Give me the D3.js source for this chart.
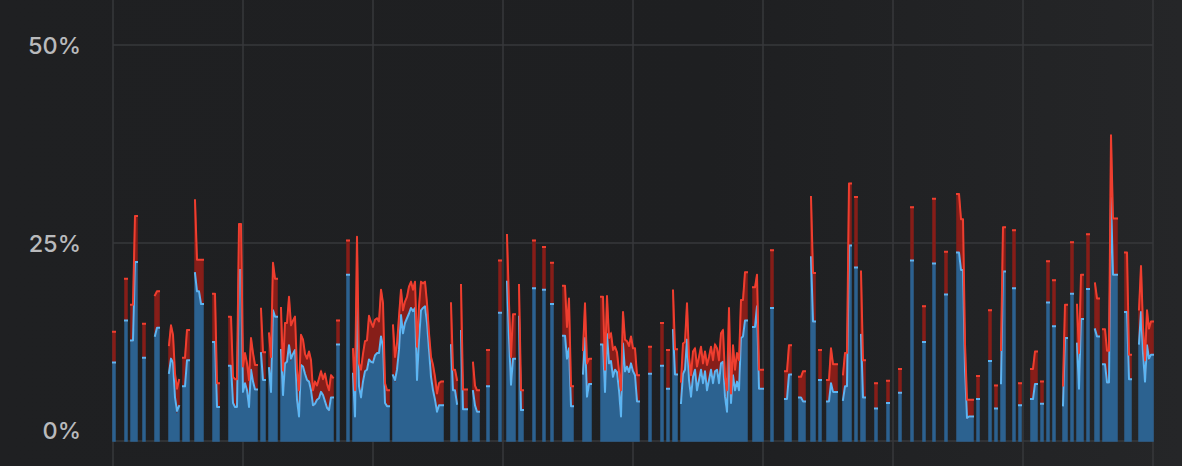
<!DOCTYPE html>
<html><head><meta charset="utf-8">
<script src="https://cdn.jsdelivr.net/npm/d3@7"></script>
<style>
html,body{margin:0;padding:0;background:#1f2022;}
svg{display:block}
</style></head>
<body><svg id="chart" width="1182" height="466"></svg>
<script>
const _ = null;
// lower series (blue), one sample per time step, null = no data
const blueVals = [
9.9,9.9,_,_,_,_,15.2,15.2,_,12.7,
12.7,22.6,22.6,_,_,10.5,10.5,_,_,_,
_,13.3,14.3,14.3,_,_,_,_,8.6,10.4,
9.9,5.5,3.8,4.4,_,6.9,6.9,10.2,10.2,_,
_,21.2,18.9,18.9,17.3,17.3,_,_,_,_,
12.5,12.5,4.3,4.3,_,_,_,_,9.5,9.5,
4.8,4.3,4.3,21.6,21.6,6.2,7.3,6.4,4.3,9.0,
7.5,6.5,6.5,_,11.1,7.7,7.7,_,9.2,6.2,
16.5,15.7,15.7,_,11.5,5.8,9.8,10.0,12.1,10.4,
11.0,11.5,5.2,3.1,9.6,9.4,8.5,7.7,7.5,6.4,
4.5,4.7,5.2,5.4,6.2,5.8,5.0,4.2,3.9,5.5,
5.5,_,12.2,12.2,_,_,_,21.0,21.0,_,
8.5,3.1,18.6,6.9,5.5,7.5,8.8,9.0,10.3,10.0,
9.9,10.8,11.1,11.1,13.2,11.9,4.8,4.4,4.4,_,
8.3,7.7,9.0,11.5,15.9,13.6,14.9,15.5,16.1,16.8,
16.4,16.8,7.7,12.8,16.5,16.8,17.0,14.9,11.5,8.1,
6.4,5.2,3.7,4.5,4.5,4.5,_,_,_,12.1,
6.4,6.4,4.7,_,13.9,4.0,4.0,4.0,_,_,
6.3,4.5,3.7,3.7,_,_,_,6.9,6.9,_,
_,_,_,16.2,16.2,_,_,20.1,13.0,7.1,
10.4,10.4,_,15.7,3.9,3.9,_,_,_,_,
19.3,19.3,_,_,_,19.1,19.1,_,_,17.3,
17.3,_,_,_,_,13.3,13.3,10.4,11.7,4.4,
4.4,_,_,_,_,8.5,13.0,5.6,7.2,7.2,
_,_,_,_,12.2,12.2,6.2,13.5,9.8,10.1,
8.1,9.0,8.7,6.4,3.1,12.3,8.8,9.4,8.7,9.8,
8.8,8.3,5.0,5.0,_,_,_,_,8.5,8.5,
_,_,_,_,9.5,9.5,_,6.6,6.6,_,
14.0,8.4,8.4,_,4.8,8.5,9.0,12.8,7.7,5.6,
8.1,9.0,6.4,7.7,9.0,7.3,8.8,6.4,7.7,9.0,
7.3,8.8,9.0,7.3,9.8,10.0,5.6,3.7,11.9,4.8,
8.3,6.4,7.5,6.4,13.0,13.2,15.2,15.2,_,_,
14.4,14.4,17.0,6.6,6.6,6.6,_,_,_,16.8,
16.8,_,_,_,_,_,5.3,5.3,8.4,8.4,
_,_,_,5.5,5.5,5.0,5.0,_,_,23.2,
15.1,15.1,_,7.7,7.7,_,_,5.0,5.0,7.3,
6.2,6.2,6.2,_,_,5.2,6.9,6.9,24.7,24.7,
_,21.9,21.9,_,13.4,5.5,5.5,_,_,_,
_,4.1,4.1,_,_,_,_,4.8,4.8,_,
_,_,_,6.1,6.1,_,_,_,_,22.8,
22.8,_,_,_,_,12.5,12.5,_,_,_,
22.4,22.4,_,_,_,_,18.5,18.5,_,_,
_,_,23.8,23.8,21.6,21.6,9.0,2.9,3.1,3.1,
3.1,_,5.3,5.3,_,_,_,_,10.1,10.1,
_,4.1,4.1,_,7.3,21.4,21.4,_,_,_,
19.3,19.3,_,4.5,4.5,_,_,_,_,5.3,
5.3,7.2,7.2,_,4.7,4.7,_,17.5,17.5,_,
14.5,14.5,_,_,_,4.5,13.0,13.0,_,18.6,
18.6,_,12.3,6.6,15.4,15.4,_,19.2,19.2,_,
_,14.1,13.2,13.2,_,9.7,9.7,7.4,7.4,30.7,
21.0,21.0,21.0,_,_,_,16.3,16.3,7.8,7.8,
_,_,_,12.3,16.3,11.1,7.5,12.1,10.4,10.9,
10.9
];
// upper series (red), stacked on top of blue
const redVals = [
3.9,3.9,_,_,_,_,5.3,5.3,_,4.5,
4.5,5.8,5.8,_,_,4.3,4.3,_,_,_,
_,5.1,4.6,4.6,_,_,_,_,3.5,4.2,
3.5,3.0,2.8,3.3,_,3.6,3.6,3.8,3.8,_,
_,9.2,4.0,4.0,5.6,5.6,_,_,_,_,
6.1,6.1,3.0,3.0,_,_,_,_,6.2,6.2,
3.3,3.5,3.5,5.8,5.8,3.2,3.8,3.4,3.4,4.0,
3.6,3.1,3.1,_,5.6,3.5,3.5,_,4.4,4.4,
6.0,4.8,4.8,_,5.3,3.1,5.1,4.9,6.1,4.2,
4.2,4.2,3.8,3.3,3.8,3.4,2.5,2.7,3.8,3.8,
1.9,2.8,1.8,2.5,2.6,2.0,3.5,3.0,2.5,2.8,
2.5,_,3.0,3.0,_,_,_,4.3,4.3,_,
3.1,3.3,7.2,2.9,3.5,3.5,3.8,3.7,5.5,5.0,
4.5,4.5,4.4,4.0,5.9,5.5,2.5,2.0,2.0,_,
6.3,2.9,3.3,4.2,3.2,2.9,2.7,2.7,3.4,3.3,
2.7,3.3,4.2,4.2,3.6,3.1,3.1,2.5,2.1,2.5,
3.2,2.9,2.3,2.8,3.0,3.0,_,_,_,5.3,
2.6,2.6,3.0,_,5.8,2.5,2.5,2.5,_,_,
3.6,2.5,2.7,2.7,_,_,_,4.6,4.6,_,
_,_,_,6.6,6.6,_,_,5.9,4.4,3.5,
5.6,5.6,_,4.0,2.5,2.5,_,_,_,_,
6.0,6.0,_,_,_,5.4,5.4,_,_,5.2,
5.2,_,_,_,_,6.3,6.3,4.0,6.3,2.5,
2.5,_,_,_,_,3.0,4.4,4.2,3.2,3.2,
_,_,_,_,6.0,6.0,2.8,4.8,3.2,3.5,
3.4,2.9,2.5,2.4,3.3,4.0,4.0,3.2,3.3,3.4,
2.9,3.4,3.3,3.3,_,_,_,_,3.4,3.4,
_,_,_,_,5.4,5.4,_,4.9,4.9,_,
5.0,3.2,3.2,_,2.7,3.8,3.5,4.6,2.9,2.7,
3.2,2.7,3.0,2.9,2.9,2.5,2.5,3.2,2.9,2.9,
2.9,3.4,2.7,2.9,3.8,4.0,2.5,2.7,4.9,1.2,
3.8,2.6,3.6,3.8,4.8,4.6,6.1,6.1,_,_,
5.0,5.0,4.0,2.4,2.4,2.4,_,_,_,7.3,
7.3,_,_,_,_,_,3.5,3.5,3.7,3.7,
_,_,_,2.6,2.6,3.8,3.8,_,_,7.6,
6.1,6.1,_,3.8,3.8,_,_,2.7,2.7,4.4,
3.5,3.5,3.5,_,_,3.2,4.2,4.2,7.8,7.8,
_,8.9,8.9,_,8.0,4.7,4.7,_,_,_,
_,3.2,3.2,_,_,_,_,2.8,2.8,_,
_,_,_,3.0,3.0,_,_,_,_,6.7,
6.7,_,_,_,_,4.5,4.5,_,_,_,
8.2,8.2,_,_,_,_,5.4,5.4,_,_,
_,_,7.4,7.4,6.4,6.4,3.3,2.3,2.1,2.1,
2.1,_,2.9,2.9,_,_,_,_,6.4,6.4,
_,2.9,2.9,_,4.2,5.6,5.6,_,_,_,
7.3,7.3,_,2.8,2.8,_,_,_,_,3.8,
3.8,4.1,4.1,_,2.8,2.8,_,5.2,5.2,_,
5.8,5.8,_,_,_,2.5,4.2,4.2,_,6.5,
6.5,_,4.9,4.5,5.6,5.6,_,6.9,6.9,_,
_,5.8,4.8,4.8,_,4.4,4.4,4.0,4.0,7.9,
7.1,7.1,7.1,_,_,_,7.5,7.5,3.1,3.1,
_,_,_,4.3,5.8,3.3,2.7,4.4,3.8,4.2,
4.2
];
const yTickValues = [0, 25, 50];
const yTickLabels = ["0%", "25%", "50%"];
const gridStep = 65; // samples between vertical grid lines

const svg = d3.select("#chart");
const W = 1182, H = 466;
const plot = {left: 113, right: 1153, top: 45, bottom: 441};

const defs = svg.append("defs");
const bg = defs.append("linearGradient").attr("id", "bg").attr("x1", "0").attr("x2", "1").attr("y1", "0").attr("y2", "0");
bg.append("stop").attr("offset", "0").attr("stop-color", "#1f2022");
bg.append("stop").attr("offset", "0.6").attr("stop-color", "#1e1f21");
bg.append("stop").attr("offset", "1").attr("stop-color", "#252628");
svg.append("rect").attr("width", W).attr("height", H).attr("fill", "url(#bg)");

const n = blueVals.length;
const x = d3.scaleLinear().domain([0, n - 1]).range([plot.left, plot.right]);
const y = d3.scaleLinear().domain([0, 50]).range([plot.bottom, plot.top]);

const data = blueVals.map((b, i) => ({i, b, r: redVals[i]}));
const ok = d => d.b != null && d.r != null;

// grid
const gridColor = "#37393b";
const xGrid = d3.range(0, n, gridStep);
svg.append("g").selectAll("line").data(xGrid).join("line")
  .attr("x1", d => x(d)).attr("x2", d => x(d))
  .attr("y1", 0).attr("y2", H)
  .attr("stroke", gridColor).attr("stroke-width", 1.5);
svg.append("g").selectAll("line").data(yTickValues).join("line")
  .attr("x1", plot.left).attr("x2", plot.right)
  .attr("y1", d => y(d)).attr("y2", d => y(d))
  .attr("stroke", gridColor).attr("stroke-width", 1.5);

// y axis labels
const yAxis = d3.axisLeft(y).tickValues(yTickValues)
  .tickFormat((d, i) => yTickLabels[i]).tickSize(0).tickPadding(32);
const ag = svg.append("g").attr("transform", `translate(${plot.left},0)`).call(yAxis);
ag.select(".domain").remove();
ag.selectAll("text")
  .attr("fill", "#b9babc")
  .style("font-family", "Inter, 'Open Sans', sans-serif")
  .style("font-size", "23.5px")
  .style("font-weight", "500")
  .attr("dy", d => d === 0 ? "-0.1em" : "0.36em");

const blueFill = "#2c6290", blueLine = "#5cb5f2";
const redFill = "#871e19", redLine = "#ee3e2f";

const areaBlue = d3.area().defined(ok).x(d => x(d.i)).y0(y(0)).y1(d => y(d.b));
const areaRed = d3.area().defined(ok).x(d => x(d.i)).y0(d => y(d.b)).y1(d => y(d.b + d.r));
const lineBlue = d3.line().defined(ok).x(d => x(d.i)).y(d => y(d.b));
const lineRed = d3.line().defined(ok).x(d => x(d.i)).y(d => y(d.b + d.r));

svg.append("path").datum(data).attr("d", areaBlue)
  .attr("fill", blueFill).attr("stroke", blueFill).attr("stroke-width", 1.5);
svg.append("path").datum(data).attr("d", areaRed)
  .attr("fill", redFill).attr("stroke", redFill).attr("stroke-width", 1.5);
svg.append("path").datum(data).attr("d", lineBlue)
  .attr("fill", "none").attr("stroke", blueLine).attr("stroke-width", 2)
  .attr("stroke-linecap", "square").attr("stroke-linejoin", "round");
svg.append("path").datum(data).attr("d", lineRed)
  .attr("fill", "none").attr("stroke", redLine).attr("stroke-width", 2)
  .attr("stroke-linecap", "square").attr("stroke-linejoin", "round");
</script>
</body></html>
